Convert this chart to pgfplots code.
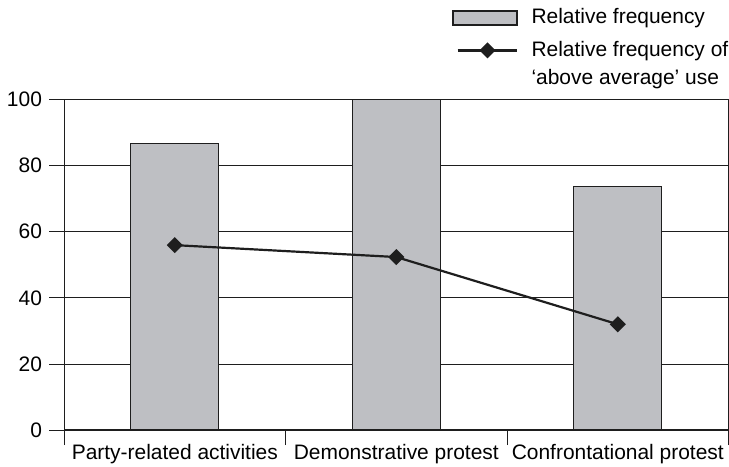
\documentclass[border=0pt]{standalone}
\usepackage{pgfplots}
\pgfplotsset{compat=1.18}
\usepackage{fontspec}
\setmainfont{Liberation Sans}
\definecolor{barfill}{RGB}{190,191,195}
\definecolor{ink}{RGB}{30,30,30}
\pgfplotsset{
  barleg/.style={legend image code/.code={\draw[##1, line width=2pt] (0pt,-7pt) rectangle (65pt,7pt); \path (0pt,-13pt);}},
  lineleg/.style={legend image code/.code={\draw[mark repeat=2, mark phase=2, ##1] plot coordinates {(5pt,0pt) (35pt,0pt) (65pt,0pt)};}},
}
\begin{document}
\fontsize{21}{26}\selectfont
\begin{tikzpicture}
\begin{axis}[
  scale only axis,
  width=666pt, height=332pt,
  xmin=-0.5, xmax=2.5, ymin=0, ymax=100,
  axis line style={ink, line width=0.9pt},
  xtick={-0.5,0.5,1.5,2.5},
  xticklabels={},
  extra x ticks={0,1,2},
  extra x tick labels={Party-related activities, Demonstrative protest, Confrontational protest},
  extra x tick style={major tick length=0pt, grid=none},
  x tick label style={inner sep=0pt, yshift=-13.5pt},
  ytick={0,20,40,60,80,100},
  ymajorgrids,
  grid style={ink, line width=0.8pt},
  xtick pos=bottom, ytick pos=left,
  tick align=outside, major tick length=15pt,
  tick style={ink, line width=0.9pt},
  /pgf/number format/assume math mode=true,
  tick label style={font=\fontsize{21}{24}\selectfont},
  legend style={draw=none, fill=none, at={(1,1)}, anchor=south east, yshift=11pt,
    font=\fontsize{21}{24}\selectfont, row sep=10pt, column sep=13pt, inner sep=0pt,
    nodes={inner sep=0pt}},
  legend cell align=left,
]
\addplot[ybar, bar width=0.396, fill=barfill, draw=ink, line width=1pt, barleg]
  coordinates {(0,86.6) (1,100) (2,73.7)};
\addlegendentry{Relative frequency}
\addplot[ink, line width=2.2pt, mark=square*, mark size=4.6pt, mark options={rotate=45, solid}, lineleg]
  coordinates {(0,55.9) (1,52.3) (2,32.0)};
\addlegendentry{Relative frequency of}
\addlegendimage{empty legend}
\addlegendentry{‘above average’ use}
\draw[ink, line width=1.6pt] (axis cs:-0.5,0) -- (axis cs:2.5,0);
\coordinate (topref) at (rel axis cs:0.5,1);
\coordinate (botref) at (rel axis cs:0.5,0);
\end{axis}
\path (topref) ++(0pt,99.3pt);
\path (botref) ++(0pt,-36pt);
\end{tikzpicture}
\end{document}
